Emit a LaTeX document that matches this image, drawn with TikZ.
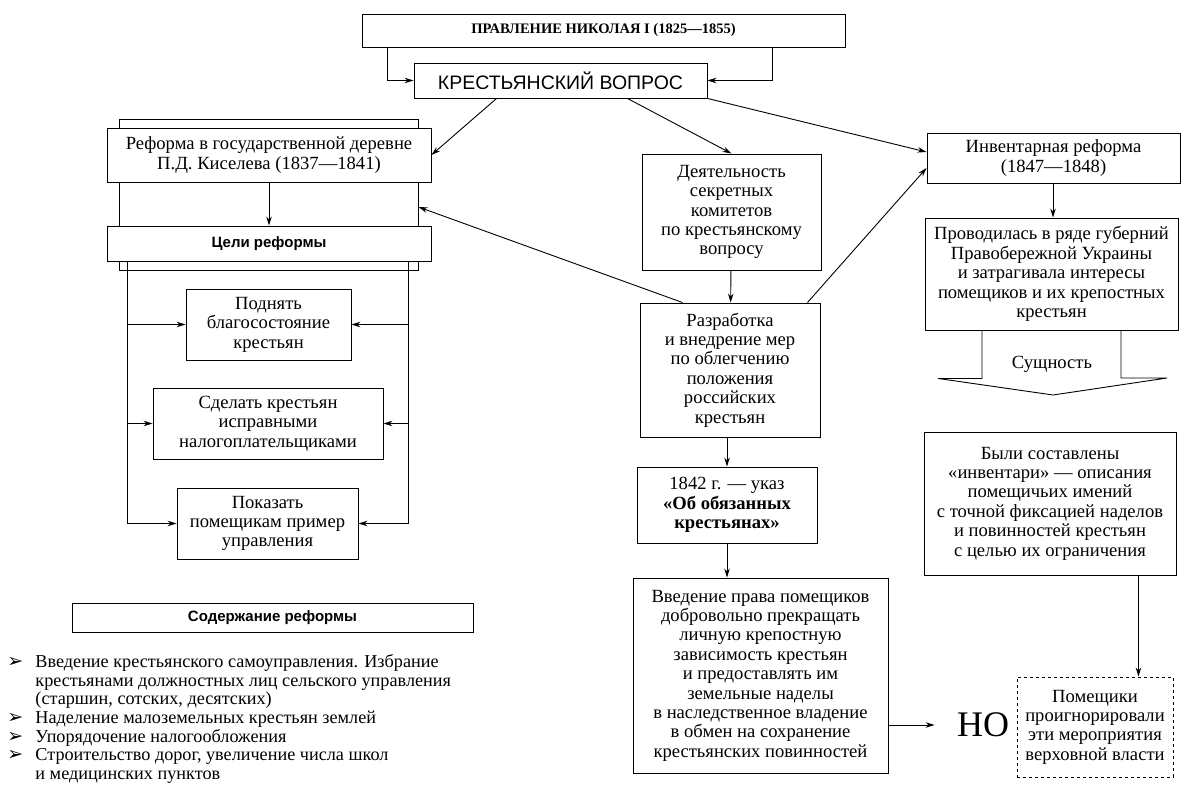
\documentclass[tikz,border=0pt]{standalone}
\usepackage{fontspec}
\setmainfont{Liberation Serif}
\setsansfont{Liberation Sans}
\newfontfamily\bulfont{DejaVu Sans}
\usetikzlibrary{arrows.meta,calc}
\newcommand{\boxtext}{\fontsize{18.6}{19.4}\selectfont}
\newcommand{\listtext}{\fontsize{18.2}{18.7}\selectfont}
\newcommand{\headtext}{\fontsize{15}{17}\selectfont\sffamily\bfseries}
\newcommand{\bul}{\makebox[28pt][l]{\bulfont\fontsize{19}{19}\selectfont ➢}}
\newcommand{\ind}{\hspace*{28pt}}

\begin{document}
\begin{tikzpicture}[x=1pt, y=-1pt, line width=0.9pt,
    every node/.style={inner sep=0pt, align=center},
    box/.style={draw, fill=white, font=\boxtext},
    arr/.style={-{Stealth[length=9pt,width=5.5pt]}}]
  \useasboundingbox (0,0) rectangle (1191,802);
  % Top:
  \node[box, minimum width=483pt, minimum height=33pt, font=\fontsize{14.5}{16}\selectfont\bfseries]
    (pravl) at (603.5,30.5) {ПРАВЛЕНИЕ НИКОЛАЯ I (1825—1855)};
  \node[box, minimum width=293pt, minimum height=35pt, font=\fontsize{19.5}{21}\selectfont\sffamily]
    (kv) at (560.5,80.5) {КРЕСТЬЯНСКИЙ ВОПРОС};
  \draw[arr] ([xshift=26pt]pravl.south west) |- (kv.west);
  \draw[arr] ([xshift=-73pt]pravl.south east) |- (kv.east);
  % Left block, the frame:
  \node[draw, fill=white, minimum width=299pt, minimum height=151pt] (frame) at (268.5,194.5) {};
  \node[box, minimum width=324pt, minimum height=54pt]
    (ref) at (269,155) {Реформа в государственной деревне\\П.Д. Киселева (1837—1841)};
  \node[box, minimum width=324pt, minimum height=35pt, font=\headtext]
    (tseli) at (269,243.5) {Цели реформы};
  \draw[arr] (ref) -- (tseli);
  % Goals:
  \node[box, minimum width=165pt, minimum height=71pt]
    (podn) at (268.5,324.5) {Поднять\\благосостояние\\крестьян};
  \node[box, minimum width=230pt, minimum height=71pt]
    (sdel) at (268,423.5) {Сделать крестьян\\исправными\\налогоплательщиками};
  \node[box, minimum width=181pt, minimum height=71pt]
    (pokaz) at (267.5,523.5) {Показать\\помещикам пример\\управления};
  \coordinate (lbus) at ([xshift=21pt]tseli.south west);
  \coordinate (rbus) at ([xshift=-23pt]tseli.south east);
  \draw (lbus) -- (lbus |- pokaz.west);
  \draw (rbus) -- (rbus |- pokaz.east);
  \foreach \g in {podn,sdel,pokaz}{
    \draw[arr] (lbus |- \g.west) -- (\g.west);
    \draw[arr] (rbus |- \g.east) -- (\g.east);
  }
  % Content of the reform:
  \node[box, minimum width=401pt, minimum height=29pt, font=\headtext]
    (soder) at (272.5,617.5) {Содержание реформы};
  \node[anchor=north west, align=left, font=\listtext] (spisok) at (7,654)
    {\bul Введение крестьянского самоуправления. Избрание\\
     \ind крестьянами должностных лиц сельского управления\\
     \ind (старшин, сотских, десятских)\\
     \bul Наделение малоземельных крестьян землей\\
     \bul Упорядочение налогообложения\\
     \bul Строительство дорог, увеличение числа школ\\
     \ind и медицинских пунктов};
  % Middle column:
  \node[box, minimum width=179pt, minimum height=116pt]
    (dey) at (731.5,212) {Деятельность\\секретных\\комитетов\\по крестьянскому\\вопросу};
  \node[box, minimum width=180pt, minimum height=134pt]
    (raz) at (730,370) {Разработка\\и внедрение мер\\по облегчению\\положения\\российских\\крестьян};
  \node[box, minimum width=180pt, minimum height=76pt]
    (ukaz) at (727,505) {1842 г. — указ\\\textbf{«Об обязанных}\\\textbf{крестьянах»}};
  \node[box, minimum width=255pt, minimum height=195pt]
    (vved) at (760.5,675.5) {Введение права помещиков\\добровольно прекращать\\личную крепостную\\зависимость крестьян\\и предоставлять им\\земельные наделы\\в наследственное владение\\в обмен на сохранение\\крестьянских повинностей};
  \draw[arr] ([xshift=-80pt]kv.south east) -- (dey.north);
  \draw[arr] ([xshift=83pt]kv.south west) -- (ref.east);
  \draw[arr] (dey) -- (raz);
  \draw[arr] (raz.south -| ukaz.north) -- (ukaz.north);
  \draw[arr] (ukaz.south) -- (ukaz.south |- vved.north);
  \draw[arr] ([xshift=43pt]raz.north west) -- ([yshift=-12.5pt]frame.east);
  % Right column:
  \node[box, minimum width=253pt, minimum height=50pt]
    (inv) at (1053.5,158) {Инвентарная реформа\\(1847—1848)};
  \node[box, minimum width=253pt, minimum height=112pt]
    (prov) at (1051.5,274) {Проводилась в ряде губерний\\Правобережной Украины\\и затрагивала интересы\\помещиков и их крепостных\\крестьян};
  \draw[arr] (kv.south east) -- ([yshift=6pt]inv.west);
  \draw[arr] ([xshift=-13pt]raz.north east) -- ([yshift=-10pt]inv.west);
  \draw[arr] (inv.south -| 1053,0) -- (prov.north -| 1053,0);
  % Block arrow:
  \draw ([xshift=-69.5pt]prov.south) -- ++(0,48) -- ++(-44,0) -- (1053,395)
    -- (1167,378) -- (1121,378) -- ([xshift=69.5pt]prov.south);
  \node[font=\boxtext] (sush) at (1052,364) {Сущность};
  \node[box, minimum width=252pt, minimum height=143pt]
    (byli) at (1050,503.5) {Были составлены\\«инвентари» — описания\\помещичьих имений\\с точной фиксацией наделов\\и повинностей крестьян\\с целью их ограничения};
  \node[box, dashed, minimum width=156pt, minimum height=100pt]
    (pom) at (1095,727) {Помещики\\проигнорировали\\эти мероприятия\\верховной власти};
  \node[font=\fontsize{36}{40}\selectfont, inner xsep=22pt] (no) at (983,725) {НО};
  \draw[arr] (vved.east |- no.west) -- (no.west);
  \draw[arr] ([xshift=-38pt]byli.south east) -- ([xshift=-35pt]pom.north east);
\end{tikzpicture}
\end{document}
